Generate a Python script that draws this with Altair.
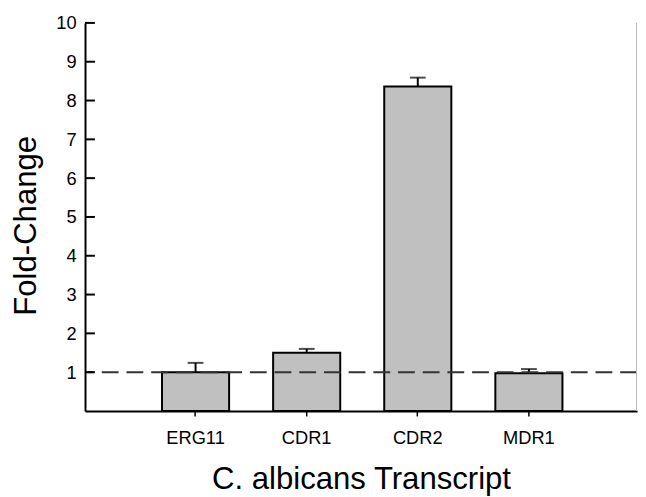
import altair as alt
import pandas as pd

genes = ["ERG11", "CDR1", "CDR2", "MDR1"]
fold_change = [1.00, 1.50, 8.36, 0.97]
upper_error = [1.24, 1.60, 8.59, 1.08]
y_ticks = [1, 2, 3, 4, 5, 6, 7, 8, 9, 10]
reference_level = [1]

df = pd.DataFrame({"gene": genes, "fold": fold_change, "upper": upper_error})
ticks_df = pd.DataFrame({"t": y_ticks})
ref_df = pd.DataFrame({"ref": reference_level})

FONT = "Liberation Sans"
W, H = 559, 393

xscale = alt.Scale(paddingInner=0.396, paddingOuter=0.682, align=0.508)
yscale = alt.Scale(domain=[0, 10], nice=False)

x_enc = alt.X(
    "gene:N", sort=genes, scale=xscale,
    axis=alt.Axis(
        title="C. albicans Transcript", titleFont=FONT, titleFontSize=31.5,
        titleFontWeight="normal", titleColor="black",
        titleX=W / 2, titleY=79, titleBaseline="alphabetic", titleAlign="center",
        labelFont=FONT, labelFontSize=18.5, labelColor="black", labelAngle=0,
        labelPadding=13, tickSize=5, tickWidth=1.5, tickColor="black",
        domainColor="black", domainWidth=2, grid=False,
    ),
)
y_enc = alt.Y(
    "fold:Q", scale=yscale,
    axis=alt.Axis(
        title="Fold-Change", titleFont=FONT, titleFontSize=31.5,
        titleFontWeight="normal", titleColor="black",
        titleX=-43, titleY=205, titleAngle=270, titleBaseline="bottom", titleAlign="center",
        values=y_ticks, labelFont=FONT, labelFontSize=18.5, labelColor="black",
        labelPadding=9, tickSize=0, domainColor="black", domainWidth=2, grid=False,
    ),
)

bars = alt.Chart(df).mark_bar(fill="#c0c0c0", stroke="black", strokeWidth=2).encode(
    x=x_enc, y=y_enc
)
err = alt.Chart(df).mark_rule(color="black", strokeWidth=2).encode(
    x=alt.X("gene:N", sort=genes), y=alt.Y("fold:Q"), y2="upper:Q"
)
caps = alt.Chart(df).mark_tick(color="black", thickness=2, size=16, orient="horizontal").encode(
    x=alt.X("gene:N", sort=genes), y=alt.Y("upper:Q")
)
ref = alt.Chart(ref_df).mark_rule(color="#333333", strokeWidth=2, strokeDash=[17, 8]).encode(
    y=alt.Y("ref:Q")
)
inticks = alt.Chart(ticks_df).mark_rule(color="black", strokeWidth=2).encode(
    y=alt.Y("t:Q"), x=alt.value(0), x2=alt.value(10)
)
edge = alt.Chart(ref_df).mark_rule(color="#bbbbbb", strokeWidth=1).encode(
    x=alt.value(W - 0.5), y=alt.value(0), y2=alt.value(H)
)

chart = alt.layer(bars, err, caps, ref, inticks, edge).properties(
    width=W, height=H,
    autosize=alt.AutoSizeParams(type="none"),
    padding={"left": 78, "top": 12, "right": 1, "bottom": 84},
    background="white",
).configure_view(stroke=None)

chart.save("out.html", embed_options={"renderer": "svg", "actions": False})
